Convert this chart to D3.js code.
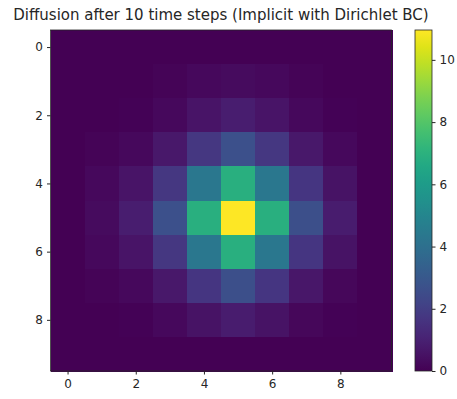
<!DOCTYPE html>
<html>
<head>
<meta charset="utf-8">
<script src="https://cdn.jsdelivr.net/npm/d3@7"></script>
<style>
  html, body { margin: 0; padding: 0; background: #fff; }
  svg text { font-family: "DejaVu Sans", sans-serif; fill: #262626; }
  .axis path, .axis line { stroke: #262626; }
</style>
</head>
<body>
<svg id="chart" width="457" height="399"></svg>
<script>
// grid values (rows 0..9, cols 0..9)
const rowIdx = [0, 1, 2, 3, 4, 5, 6, 7, 8, 9];
const colIdx = [0, 1, 2, 3, 4, 5, 6, 7, 8, 9];
const row0 = [0, 0, 0, 0, 0, 0, 0, 0, 0, 0];
const row1 = [0, 0.01, 0.03, 0.1, 0.22, 0.33, 0.22, 0.09, 0.03, 0];
const row2 = [0, 0.03, 0.08, 0.24, 0.57, 0.88, 0.57, 0.23, 0.07, 0];
const row3 = [0, 0.09, 0.24, 0.72, 1.72, 2.66, 1.72, 0.7, 0.22, 0];
const row4 = [0, 0.22, 0.58, 1.72, 4.35, 6.9, 4.35, 1.7, 0.55, 0];
const row5 = [0, 0.33, 0.88, 2.66, 6.9, 10.96, 6.9, 2.62, 0.83, 0];
const row6 = [0, 0.22, 0.58, 1.72, 4.35, 6.9, 4.35, 1.7, 0.55, 0];
const row7 = [0, 0.09, 0.23, 0.7, 1.7, 2.62, 1.7, 0.68, 0.21, 0];
const row8 = [0, 0.03, 0.07, 0.22, 0.55, 0.83, 0.55, 0.21, 0.07, 0];
const row9 = [0, 0, 0, 0, 0, 0, 0, 0, 0, 0];
const grid = [row0, row1, row2, row3, row4, row5, row6, row7, row8, row9];

const axisTicks = [0, 2, 4, 6, 8];
const cbarTicks = [0, 2, 4, 6, 8, 10];
const title = "Diffusion after 10 time steps (Implicit with Dirichlet BC)";

const svg = d3.select("#chart");

const plot = { left: 50.5, top: 30, size: 341 };
const cbar = { left: 415, width: 17 };

const vmin = 0;
const vmax = d3.max(grid, (r) => d3.max(r));
const color = d3.scaleSequential(d3.interpolateViridis).domain([vmin, vmax]);

// linear scales for axes, band scales for cells
const x = d3.scaleLinear().domain([-0.5, 9.5]).range([plot.left, plot.left + plot.size]);
const y = d3.scaleLinear().domain([-0.5, 9.5]).range([plot.top, plot.top + plot.size]);
const xb = d3.scaleBand().domain(colIdx).range([plot.left, plot.left + plot.size]);
const yb = d3.scaleBand().domain(rowIdx).range([plot.top, plot.top + plot.size]);

const cells = [];
grid.forEach((r, i) => r.forEach((v, j) => cells.push({ row: i, col: j, v })));

svg.append("g")
  .attr("shape-rendering", "crispEdges")
  .selectAll("rect")
  .data(cells)
  .enter()
  .append("rect")
  .attr("x", (d) => xb(d.col))
  .attr("y", (d) => yb(d.row))
  .attr("width", xb.bandwidth() + 1)
  .attr("height", yb.bandwidth() + 1)
  .attr("fill", (d) => color(d.v));

// frame
svg.append("rect")
  .attr("x", plot.left)
  .attr("y", plot.top)
  .attr("width", plot.size)
  .attr("height", plot.size)
  .attr("fill", "none")
  .attr("stroke", "#262626")
  .attr("stroke-width", 0.8);

const tickFont = "12px";

svg.append("g")
  .attr("class", "axis")
  .attr("transform", `translate(0,${plot.top + plot.size})`)
  .call(d3.axisBottom(x).tickValues(axisTicks).tickSize(3.5).tickPadding(4.5).tickFormat(d3.format("d")))
  .call((g) => g.select(".domain").remove())
  .selectAll("text")
  .style("font-size", tickFont);

svg.append("g")
  .attr("class", "axis")
  .attr("transform", `translate(${plot.left},0)`)
  .call(d3.axisLeft(y).tickValues(axisTicks).tickSize(3.5).tickPadding(4).tickFormat(d3.format("d")))
  .call((g) => g.select(".domain").remove())
  .selectAll("text")
  .style("font-size", tickFont);

// colorbar
const defs = svg.append("defs");
const grad = defs.append("linearGradient")
  .attr("id", "viridis")
  .attr("x1", 0).attr("y1", 1)
  .attr("x2", 0).attr("y2", 0);
d3.range(0, 1.0001, 0.05).forEach((t) => {
  grad.append("stop")
    .attr("offset", `${t * 100}%`)
    .attr("stop-color", d3.interpolateViridis(t));
});

const cy = d3.scaleLinear().domain([vmin, vmax]).range([plot.top + plot.size, plot.top]);

svg.append("rect")
  .attr("x", cbar.left)
  .attr("y", plot.top)
  .attr("width", cbar.width)
  .attr("height", plot.size)
  .attr("fill", "url(#viridis)")
  .attr("stroke", "#262626")
  .attr("stroke-width", 0.8);

svg.append("g")
  .attr("class", "axis")
  .attr("transform", `translate(${cbar.left + cbar.width},0)`)
  .call(d3.axisRight(cy).tickValues(cbarTicks).tickSize(3.5).tickPadding(4).tickFormat(d3.format("d")))
  .call((g) => g.select(".domain").remove())
  .selectAll("text")
  .style("font-size", tickFont);

svg.append("text")
  .attr("x", plot.left + plot.size / 2)
  .attr("y", 20)
  .attr("text-anchor", "middle")
  .style("font-size", "15px")
  .text(title);
</script>
</body>
</html>
